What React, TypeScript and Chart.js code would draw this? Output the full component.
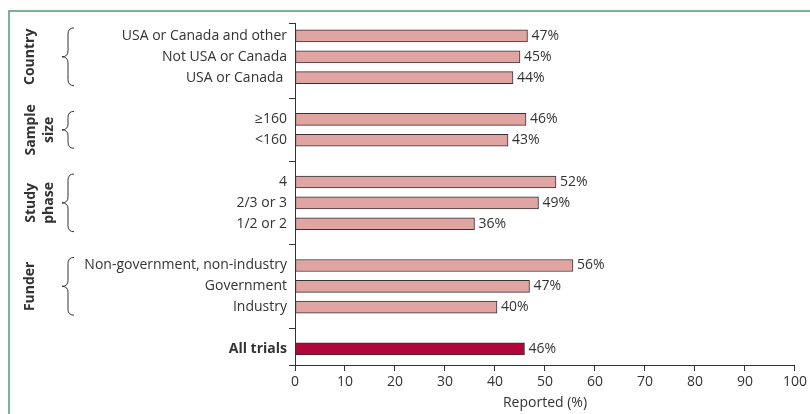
import React, { useEffect, useRef } from 'react';
import { Chart, registerables } from 'chart.js';

Chart.register(...registerables);

const FONT = '"Open Sans", "Noto Sans", sans-serif';

// Rows of the chart, top to bottom; '' marks the blank slot between groups
const categories = [
  'USA or Canada and other',
  'Not USA or Canada',
  'USA or Canada ',
  '',
  '≥160',
  '<160',
  '',
  '4',
  '2/3 or 3',
  '1/2 or 2',
  '',
  'Non-government, non-industry',
  'Government',
  'Industry',
  '',
  'All trials',
];

// Reported (%) for each row (null for blank slots)
const reportedValues: (number | null)[] = [
  46.5, 45.0, 43.6, null,
  46.2, 42.6, null,
  52.2, 48.7, 35.9, null,
  55.6, 46.9, 40.4, null,
  45.9,
];

const groupNames = [['Country'], ['Sample', 'size'], ['Study', 'phase'], ['Funder']];
const groupFirstRow = [0, 4, 7, 11];
const groupLastRow = [2, 5, 9, 13];

const highlightCategory = 'All trials';
const xMin = 0;
const xMax = 100;
const xStep = 10;
const xTitle = 'Reported (%)';
const yMin = -0.62;
const yMax = 15.77;

const PINK = '#e0a4a2';
const CRIMSON = '#b0063a';
const INK = '#333333';
const FRAME = '#4f9d70';

export default function App() {
  const canvasRef = useRef<HTMLCanvasElement | null>(null);

  useEffect(() => {
    document.body.style.margin = '0';
    document.body.style.overflow = 'hidden';
    const canvas = canvasRef.current;
    if (!canvas) return;

    const points = categories
      .map((c, i) => ({ c, i, v: reportedValues[i] }))
      .filter((p) => p.v !== null)
      .map((p) => ({ x: p.v as number, y: p.i }));

    const annotate = {
      id: 'annotate',
      afterDatasetsDraw(chart: any) {
        const ctx = chart.ctx as CanvasRenderingContext2D;
        const meta = chart.getDatasetMeta(0);
        ctx.save();
        // value labels
        ctx.font = `14px ${FONT}`;
        ctx.fillStyle = INK;
        ctx.textBaseline = 'middle';
        ctx.textAlign = 'left';
        meta.data.forEach((el: any, i: number) => {
          ctx.fillText(`${Math.round(points[i].x)}%`, el.x + 4, el.y);
        });
        // group braces + names
        const ys = chart.scales.y;
        groupNames.forEach((lines, gi) => {
          const y1 = ys.getPixelForValue(groupFirstRow[gi]) - 8;
          const y2 = ys.getPixelForValue(groupLastRow[gi]) + 8;
          const mid = (y1 + y2) / 2;
          const tip = 62;
          const spine = 68;
          const end = 74;
          ctx.beginPath();
          ctx.strokeStyle = INK;
          ctx.lineWidth = 1;
          ctx.moveTo(end, y1);
          ctx.quadraticCurveTo(spine, y1, spine, y1 + 6);
          ctx.lineTo(spine, mid - 6);
          ctx.quadraticCurveTo(spine, mid, tip, mid);
          ctx.quadraticCurveTo(spine, mid, spine, mid + 6);
          ctx.lineTo(spine, y2 - 6);
          ctx.quadraticCurveTo(spine, y2, end, y2);
          ctx.stroke();

          ctx.font = `bold 14px ${FONT}`;
          ctx.textAlign = 'center';
          ctx.textBaseline = 'middle';
          lines.forEach((t, li) => {
            const x = lines.length === 1 ? 30 : 31 + li * 18;
            ctx.save();
            ctx.translate(x, mid);
            ctx.rotate(-Math.PI / 2);
            ctx.fillText(t, 0, 0);
            ctx.restore();
          });
        });
        // frame
        ctx.strokeStyle = FRAME;
        ctx.lineWidth = 1.5;
        ctx.beginPath();
        ctx.moveTo(9, 414);
        ctx.lineTo(9, 11);
        ctx.lineTo(810, 11);
        ctx.stroke();
        ctx.restore();
      },
    };

    const chart = new Chart(canvas, {
      type: 'bar',
      data: {
        datasets: [
          {
            data: points as any,
            backgroundColor: points.map((p) => (categories[p.y] === highlightCategory ? CRIMSON : PINK)),
            borderColor: INK,
            borderWidth: 1,
            borderSkipped: false,
            barThickness: 12,
          },
        ],
      },
      options: {
        indexAxis: 'y',
        responsive: false,
        animation: false,
        layout: { padding: { left: 0, right: 15, top: 23, bottom: 0 } },
        plugins: { legend: { display: false }, tooltip: { enabled: false } },
        scales: {
          y: {
            type: 'linear',
            reverse: true,
            offset: false,
            bounds: 'data',
            min: yMin,
            max: yMax,
            afterBuildTicks: (s: any) => {
              s.ticks = [yMin, ...categories.map((_, i) => i), yMax].map((v: number) => ({ value: v }));
            },
            afterFit: (s: any) => {
              s.width = 295;
            },
            border: { display: true, color: INK, width: 1 },
            grid: {
              drawOnChartArea: false,
              drawTicks: true,
              offset: false,
              tickLength: 6,
              tickWidth: 1,
              tickColor: (c: any) => {
                const v = c.tick ? c.tick.value : NaN;
                return Number.isInteger(v) && categories[v] !== '' ? 'rgba(0,0,0,0)' : INK;
              },
            },
            ticks: {
              autoSkip: false,
              padding: 2,
              color: INK,
              font: (c: any) => ({
                family: FONT,
                size: 14,
                weight: c.tick && categories[c.tick.value] === highlightCategory ? 'bold' : 'normal',
              }),
              callback: (v: any) => (Number.isInteger(v) ? categories[v] : ''),
            },
          },
          x: {
            type: 'linear',
            position: 'bottom',
            min: xMin,
            max: xMax,
            afterFit: (s: any) => {
              s.height = 49;
            },
            border: { display: true, color: INK, width: 1 },
            grid: { drawOnChartArea: false, drawTicks: true, tickLength: 6, tickColor: INK },
            ticks: {
              stepSize: xStep,
              autoSkip: false,
              maxRotation: 0,
              padding: 3,
              color: INK,
              font: { family: FONT, size: 14 },
            },
            title: {
              display: true,
              text: xTitle,
              color: INK,
              font: { family: FONT, size: 14 },
              padding: { top: 0, bottom: 3 },
            },
          },
        },
      } as any,
      plugins: [annotate],
    });

    return () => chart.destroy();
  }, []);

  return (
    <div style={{ width: 810, height: 414, position: 'relative', background: '#fff' }}>
      <canvas ref={canvasRef} width={810} height={414} style={{ width: 810, height: 414, display: 'block' }} />
    </div>
  );
}
